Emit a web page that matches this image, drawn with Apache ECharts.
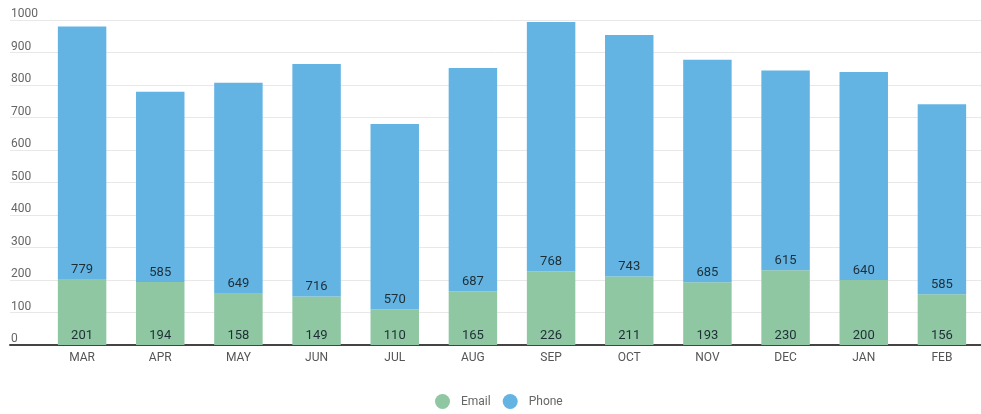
<!DOCTYPE html>
<html><head><meta charset="utf-8">
<script src="https://cdn.jsdelivr.net/npm/echarts@6/dist/echarts.min.js"></script>
<style>html,body{margin:0;padding:0;background:#fff}#c{width:981px;height:414px}</style>
</head><body><div id="c"></div>
<script>
const categories = ['MAR','APR','MAY','JUN','JUL','AUG','SEP','OCT','NOV','DEC','JAN','FEB'];
const emailValues = [201,194,158,149,110,165,226,211,193,230,200,156];
const phoneValues = [779,585,649,716,570,687,768,743,685,615,640,585];
const yTicks = [0,100,200,300,400,500,600,700,800,900,1000];

const chart = echarts.init(document.getElementById('c'));
const lbl = {show:true, position:'insideBottom', distance:3, color:'#1e2e36', fontSize:13, fontFamily:'Roboto'};
chart.setOption({
  animation:false,
  textStyle:{fontFamily:'Roboto'},
  grid:[
    {left:10, right:0, top:20, bottom:69},
    {left:43, width:941, top:20, bottom:69}
  ],
  xAxis:[
    {gridIndex:0, type:'value', min:0, max:1, axisLine:{show:true, lineStyle:{color:'#444', width:2}}, axisTick:{show:false}, axisLabel:{show:false}, splitLine:{show:false}},
    {gridIndex:1, type:'category', data:categories, axisLine:{show:false}, axisTick:{show:false},
     axisLabel:{color:'#555', fontSize:12, margin:7}}
  ],
  yAxis:[
    {gridIndex:0, type:'value', min:yTicks[0], max:yTicks[yTicks.length-1], interval:100,
     axisLine:{show:false}, axisTick:{show:false},
     axisLabel:{inside:true, margin:1, align:'left', verticalAlign:'bottom', padding:[0,0,0,0], color:'#666', fontSize:12,
       formatter:v=>String(v)},
     splitLine:{lineStyle:{color:'#e8e8e8'}}},
    {gridIndex:1, type:'value', min:0, max:1000, show:false, splitLine:{show:false}}
  ],
  legend:{top:389, left:430, icon:'circle', itemWidth:15, itemHeight:15, itemGap:12,
    formatter:n=>'{t|'+n+'}',
    textStyle:{color:'#666', fontSize:12, rich:{t:{color:'#666', fontSize:12, padding:[0,0,0,6]}}}, data:['Email','Phone']},
  series:[
    {name:'Email', type:'bar', stack:'t', xAxisIndex:1, yAxisIndex:1, data:emailValues, barWidth:'62%',
     itemStyle:{color:'#8fc7a2'}, label:lbl},
    {name:'Phone', type:'bar', stack:'t', xAxisIndex:1, yAxisIndex:1, data:phoneValues, barWidth:'62%',
     itemStyle:{color:'#63b4e3'}, label:lbl}
  ]
});
</script></body></html>
